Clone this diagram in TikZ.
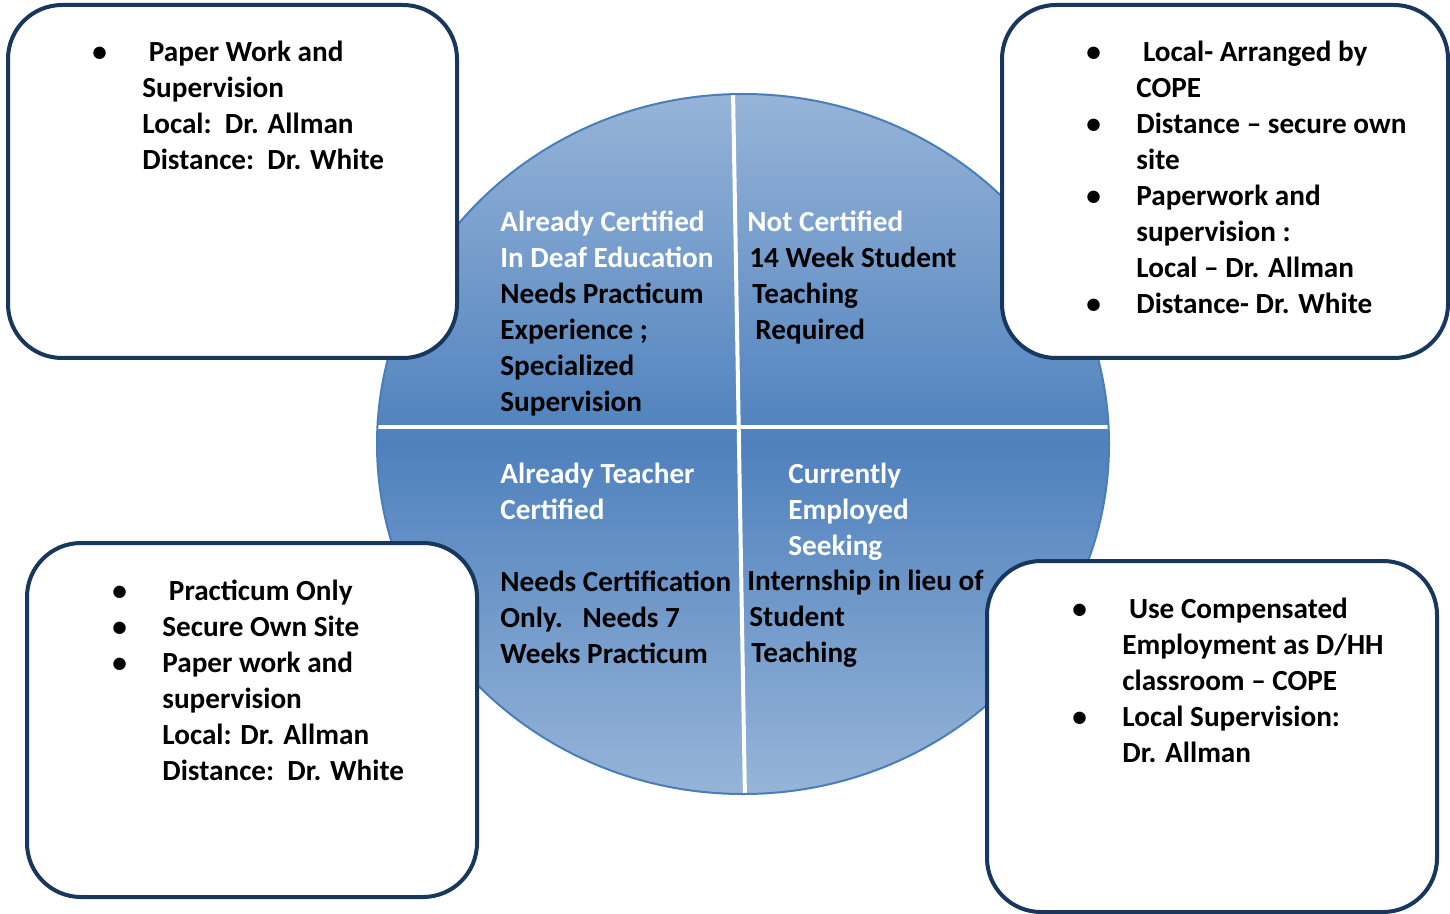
\documentclass[tikz,border=0pt]{standalone}
\usepackage{fontspec}
\setmainfont{Carlito}
\usetikzlibrary{positioning,calc}
\definecolor{boxnavy}{RGB}{23,55,94}
\definecolor{cirlight}{RGB}{150,180,216}
\definecolor{cirdark}{RGB}{79,129,189}
\definecolor{ciredge}{RGB}{74,126,187}
\newcommand{\boxfont}{\bfseries\fontsize{14.6}{18}\selectfont}
\newlength{\bulw}
\setlength{\bulw}{25pt}
\tikzset{
	infobox/.style={
		draw=boxnavy,
		line width=2pt,
		fill=white,
		rounded corners=27pt,
	},
	listtext/.style={
		anchor=base west,
		inner sep=0pt,
		font=\boxfont,
	},
	divider/.style={
		draw=white,
		line width=2pt,
	},
}

\begin{document}
\begin{tikzpicture}[x=0.5pt, y=-0.5pt]
				\useasboundingbox[fill=white] (0,0) rectangle (1450,914);
				% circle
				\coordinate (ctr) at (743,444);
				\shade[top color=cirlight, bottom color=cirlight, middle color=cirdark] (ctr) ellipse [x radius=366, y radius=350];
				\coordinate (vtop) at (733,90);
				\coordinate (vbot) at (745,800);
				\coordinate (hleft) at (370,427);
				\coordinate (hright) at (1115,427);
				\begin{scope}
					\clip (ctr) ellipse [x radius=366, y radius=350];
					\draw[divider] (vtop) -- (vbot);
					\draw[divider] (hleft) -- (hright);
				\end{scope}
				\draw[ciredge, line width=1pt] (ctr) ellipse [x radius=366, y radius=350];
				
				% boxes
				\draw[infobox] (8,5) rectangle (457,358);
				\draw[infobox] (1002,5) rectangle (1448,358);
				\draw[infobox] (27,543) rectangle (477,897);
				\draw[infobox] (987,561) rectangle (1437,912);
				
				% box texts
				\node[listtext] (tlnote) at (92,62) {\begin{tabular}[t]{@{}p{\bulw}@{}l@{}}
					\textbullet & \ Paper Work and\\
					& Supervision\\
					& Local:\ \ Dr. Allman\\
					& Distance:\ \ Dr. White
				\end{tabular}};
				\node[listtext] (trnote) at (1086,62) {\begin{tabular}[t]{@{}p{\bulw}@{}l@{}}
					\textbullet & \ Local- Arranged by\\
					& COPE\\
					\textbullet & Distance -- secure own\\
					& site\\
					\textbullet & Paperwork and\\
					& supervision :\\
					& Local -- Dr. Allman\\
					\textbullet & Distance- Dr. White
				\end{tabular}};
				\node[listtext] (blnote) at (112,600) {\begin{tabular}[t]{@{}p{\bulw}@{}l@{}}
					\textbullet & \ Practicum Only\\
					\textbullet & Secure Own Site\\
					\textbullet & Paper work and\\
					& supervision\\
					& Local: Dr. Allman\\
					& Distance:\ \ Dr. White
				\end{tabular}};
				\node[listtext] (brnote) at (1072,618) {\begin{tabular}[t]{@{}p{\bulw}@{}l@{}}
					\textbullet & \ Use Compensated\\
					& Employment as D/HH\\
					& classroom -- COPE\\
					\textbullet & Local Supervision:\\
					& Dr. Allman
				\end{tabular}};
				
				% quadrant texts
				\node[listtext] (certdeaf) at (500,232) {\begin{tabular}[t]{@{}l@{}}
					\textcolor{white}{Already Certified}\\
					\textcolor{white}{In Deaf Education}\\
					Needs Practicum\\
					Experience ;\\
					Specialized\\
					Supervision
				\end{tabular}};
				\node[listtext] (notcert) at (747,232) {\begin{tabular}[t]{@{}l@{}}
					\textcolor{white}{Not Certified}\\
					\hspace*{1pt}14 Week Student\\
					\hspace*{2.5pt}Teaching\\
					\hspace*{4pt}Required
				\end{tabular}};
				\node[listtext] (certteach) at (500,483) {\begin{tabular}[t]{@{}l@{}}
					\textcolor{white}{Already Teacher}\\
					\textcolor{white}{Certified}\\[18pt]
					Needs Certification\\
					Only.\ \ \ Needs 7\\
					Weeks Practicum
				\end{tabular}};
				\node[listtext] (employed) at (788,483) {\begin{tabular}[t]{@{}l@{}}
					\textcolor{white}{Currently}\\
					\textcolor{white}{Employed}\\
					\textcolor{white}{Seeking}
				\end{tabular}};
				\node[listtext] (intern) at (747,590) {\begin{tabular}[t]{@{}l@{}}
					Internship in lieu of\\
					\hspace*{1pt}Student\\
					\hspace*{2pt}Teaching
				\end{tabular}};
			\end{tikzpicture}
\end{document}
